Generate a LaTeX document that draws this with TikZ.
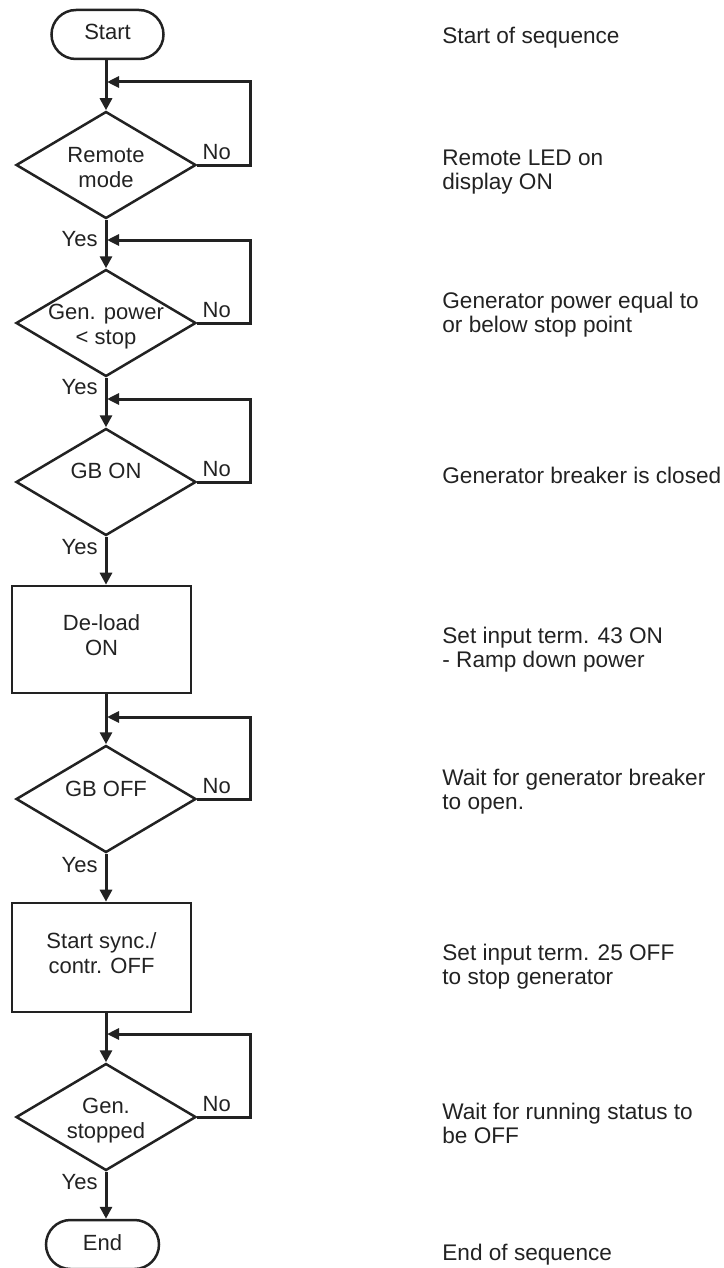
\documentclass[tikz,border=0pt]{standalone}
\usepackage{fontspec}
\setmainfont{Liberation Sans}
\usetikzlibrary{shapes.geometric, arrows.meta, calc}
\definecolor{ink}{HTML}{222222}

\begin{document}
\begin{tikzpicture}[x=0.5pt, y=-0.5pt,
  every node/.style={text=ink, font=\fontsize{11}{12.5}\selectfont},
  term/.style={draw=ink, line width=1.25pt, rounded corners=12.25pt,
    minimum width=56pt, minimum height=24.5pt, inner sep=0},
  decision/.style={draw=ink, line width=1.25pt, diamond, inner sep=0,
    minimum width=90pt, minimum height=53.5pt},
  process/.style={draw=ink, line width=1.3pt, rectangle, inner sep=0,
    minimum width=89.5pt, minimum height=53.5pt},
  inside/.style={align=center, inner sep=0},
  flow/.style={draw=ink, line width=1.5pt, -{Triangle[length=6pt,width=6pt]}},
  back/.style={draw=ink, line width=1.5pt, -{Triangle[length=6pt,width=5.5pt]}},
  yeslbl/.style={anchor=east, inner sep=0},
  nolbl/.style={anchor=west, inner sep=0},
  note/.style={anchor=north west, inner sep=0, align=left,
    font=\fontsize{11.3}{12}\selectfont, execute at begin node=\strut},
]
\useasboundingbox (0,0) rectangle (723,1268);

% main column
\node[term] (start) at (107.5,34.5)
  [label={[inside, yshift=1.25pt]center:Start}] {};
\node[decision] (d1) at (106,165)
  [label={[inside, yshift=-1.25pt]center:Remote\\mode}] {};
\node[decision] (d2) at (106,323)
  [label={[inside, yshift=-2pt]center:Gen. power\\\textless{} stop}] {};
\node[decision] (d3) at (106,482)
  [label={[inside, yshift=5.5pt]center:GB ON}] {};
\node[process] (b1) at (101.5,639.5)
  [label={[inside, yshift=2.25pt]center:De-load\\ON}] {};
\node[decision] (d4) at (106,799)
  [label={[inside, yshift=5pt]center:GB OFF}] {};
\node[process, minimum height=54.5pt] (b2) at (101.5,957.5)
  [label={[inside, yshift=2.25pt]center:Start sync./\\contr. OFF}] {};
\node[decision] (d5) at (106,1117)
  [label={[inside, yshift=-2pt]center:Gen.\\stopped}] {};
\node[term, minimum width=56.5pt] (end) at (102.5,1244.5)
  [label={[inside, yshift=0.75pt]center:End}] {};

% junctions where the "No" branches rejoin, and their outer corners
\coordinate (j1) at (107,82);   \coordinate (r1) at (250,82);
\coordinate (j2) at (107,240);  \coordinate (r2) at (250,240);
\coordinate (j3) at (107,399);  \coordinate (r3) at (250,399);
\coordinate (j4) at (107,717);  \coordinate (r4) at (250,717);
\coordinate (j5) at (107,1034); \coordinate (r5) at (250,1034);

% forward flow
\draw[flow] (start.south -| d1.north) -- (d1.north);
\draw[flow] (d1.south) -- (d2.north);
\draw[flow] (d2.south) -- (d3.north);
\draw[flow] (d3.south) -- (d3.south |- b1.north);
\draw[flow] (b1.south -| d4.north) -- (d4.north);
\draw[flow] (d4.south) -- (d4.south |- b2.north);
\draw[flow] (b2.south -| d5.north) -- (d5.north);
\draw[flow] (d5.south) -- (d5.south |- end.north);

% "No" loops
\draw[back] (d1.east) -| (r1) -- (j1);
\draw[back] (d2.east) -| (r2) -- (j2);
\draw[back] (d3.east) -| (r3) -- (j3);
\draw[back] (d4.east) -| (r4) -- (j4);
\draw[back] (d5.east) -| (r5) -- (j5);

% branch labels
\node[nolbl] (n1) at ([xshift=2.5pt, yshift=6.5pt]d1.east) {No};
\node[nolbl] (n2) at ([xshift=2.5pt, yshift=6.5pt]d2.east) {No};
\node[nolbl] (n3) at ([xshift=2.5pt, yshift=6.5pt]d3.east) {No};
\node[nolbl] (n4) at ([xshift=2.5pt, yshift=6.5pt]d4.east) {No};
\node[nolbl] (n5) at ([xshift=2.5pt, yshift=6.5pt]d5.east) {No};

\node[yeslbl] (y1) at (98,239)  {Yes};
\node[yeslbl] (y2) at (98,387)  {Yes};
\node[yeslbl] (y3) at (98,547)  {Yes};
\node[yeslbl] (y4) at (98,865)  {Yes};
\node[yeslbl] (y5) at (98,1182) {Yes};

% descriptions
\node[note] (t1) at (442,26.3)   {Start of sequence};
\node[note] (t2) at (442,149.3)  {Remote LED on\\display ON};
\node[note] (t3) at (442,291.3)  {Generator power equal to\\or below stop point};
\node[note] (t4) at (442,466.3)  {Generator breaker is closed};
\node[note] (t5) at (442,626.3)  {Set input term. 43 ON\\- Ramp down power};
\node[note] (t6) at (442,768.3)  {Wait for generator breaker\\to open.};
\node[note] (t7) at (442,943.3)  {Set input term. 25 OFF\\to stop generator};
\node[note] (t8) at (442,1102.3) {Wait for running status to\\be OFF};
\node[note] (t9) at (442,1243.3) {End of sequence};
\end{tikzpicture}
\end{document}
